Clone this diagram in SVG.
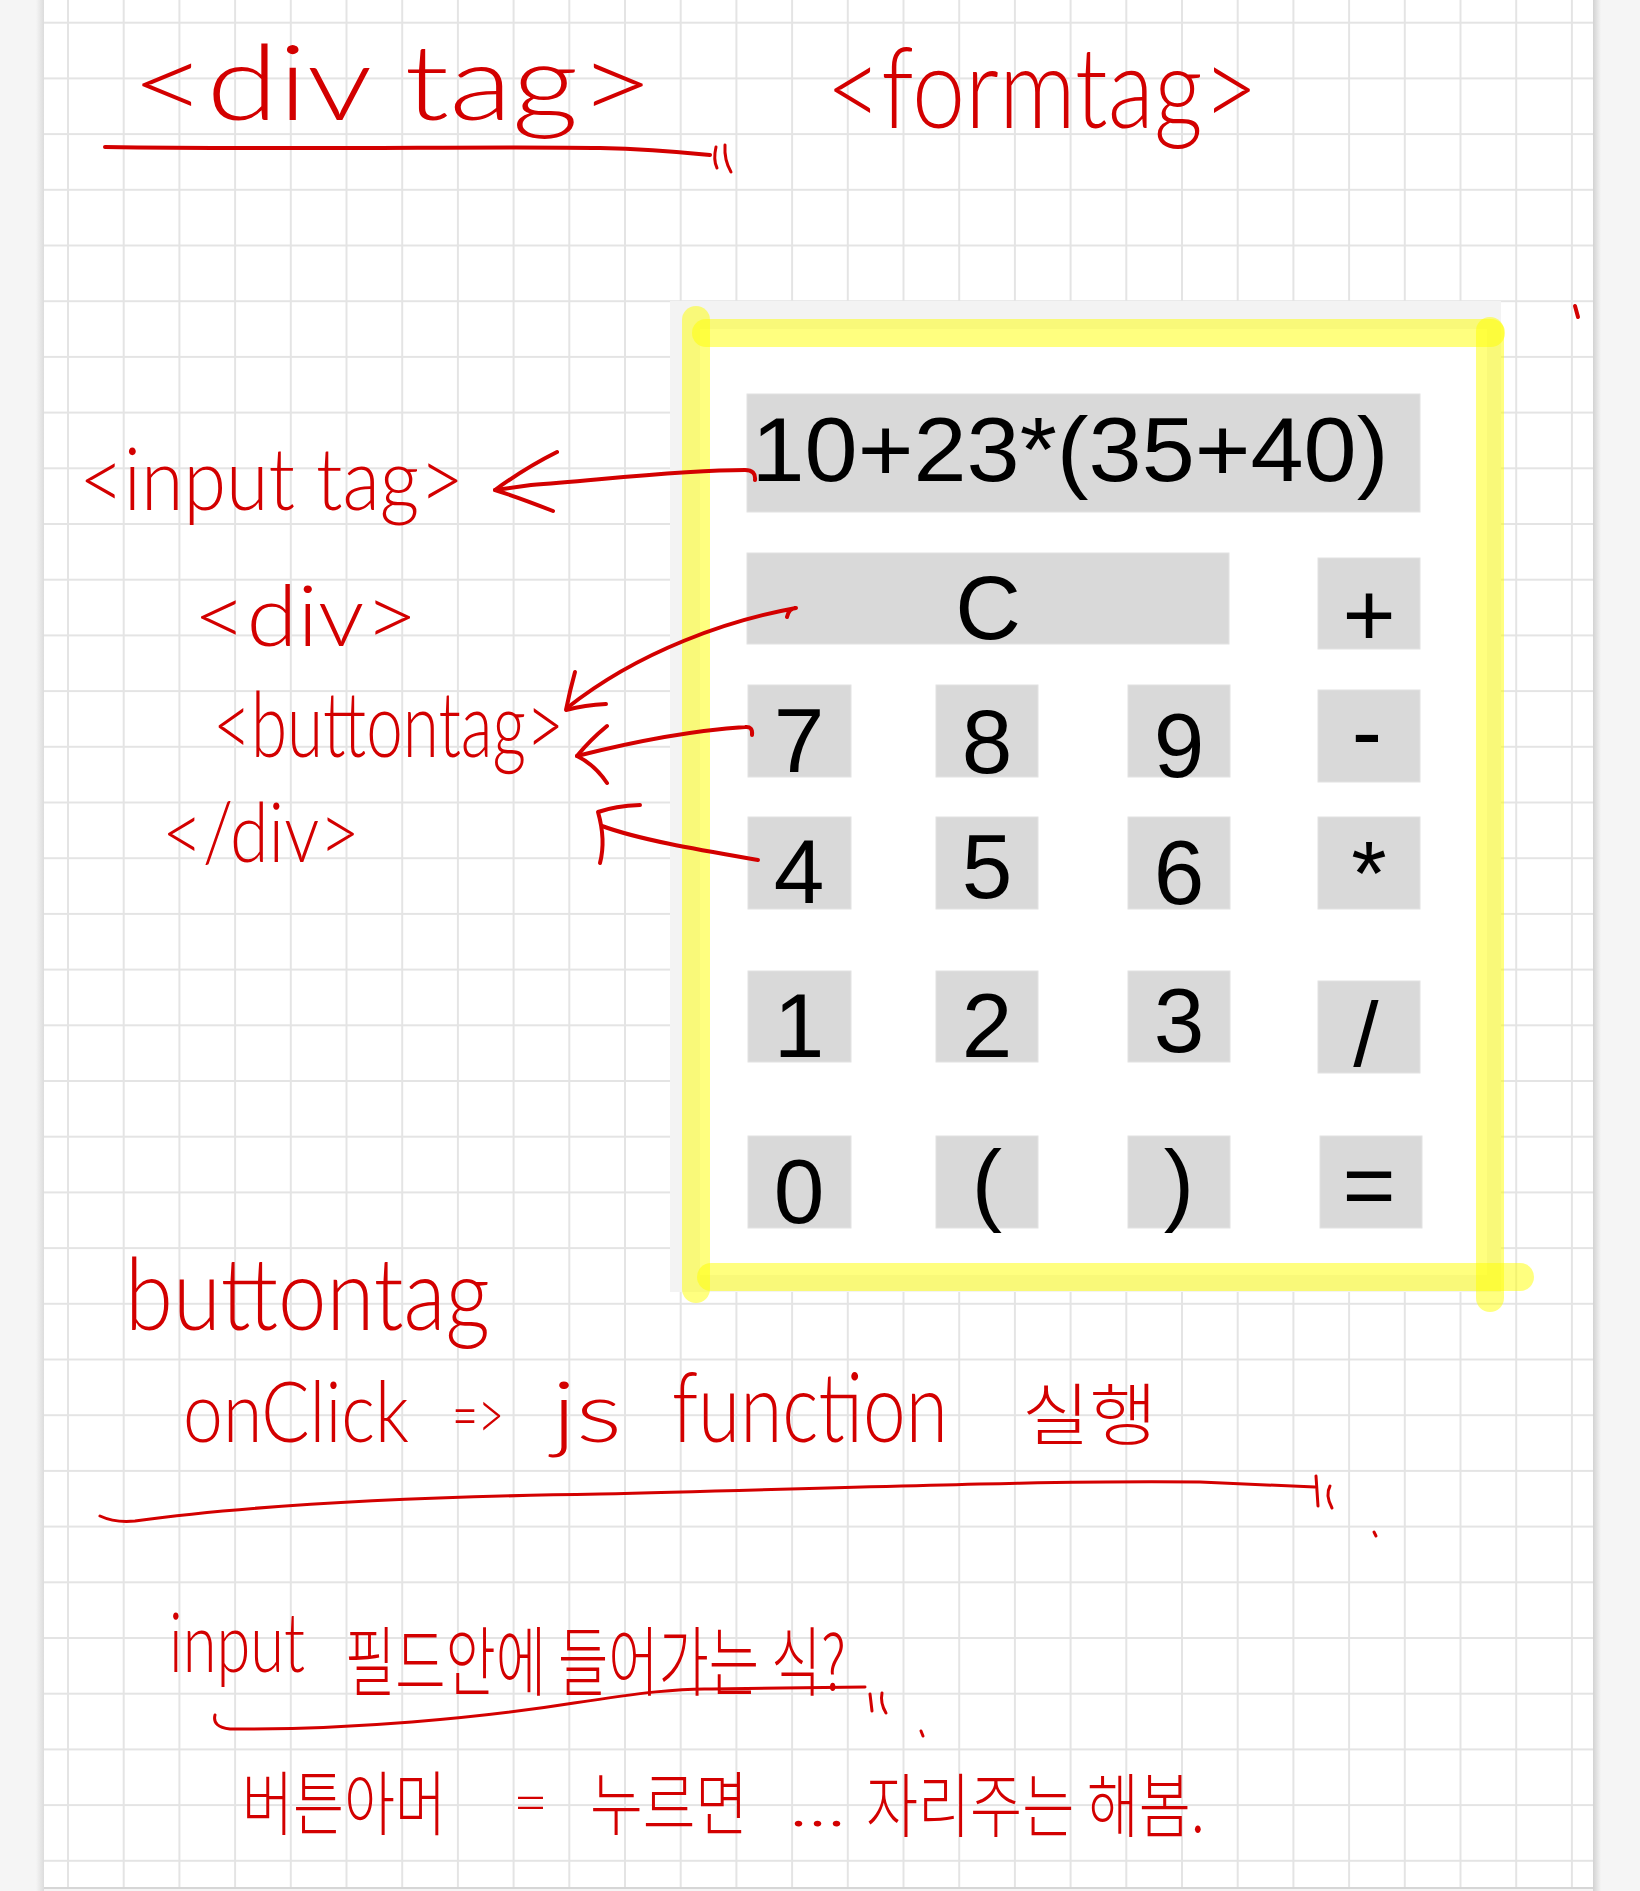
<svg xmlns="http://www.w3.org/2000/svg" width="1640" height="1891" viewBox="0 0 1640 1891">
<defs>
<pattern id="grid" patternUnits="userSpaceOnUse" x="40.15" y="-5.15" width="55.7" height="55.7">
<path d="M27.85,0V55.7M0,27.85H55.7" stroke="#e4e4e4" stroke-width="2" fill="none"/>
</pattern>
<linearGradient id="shadowL" x1="0" y1="0" x2="1" y2="0">
<stop offset="0" stop-color="#f5f5f5"/><stop offset="1" stop-color="#dcdcdc"/>
</linearGradient>
<linearGradient id="shadowR" x1="0" y1="0" x2="1" y2="0">
<stop offset="0" stop-color="#d2d2d2"/><stop offset="1" stop-color="#f5f5f5"/>
</linearGradient>
<style>
.btn{fill:#d9d9d9;stroke:#e2e2e2;stroke-width:1}
.calc{font-family:"Liberation Sans",Arial,sans-serif;font-size:91px;fill:#000;text-anchor:middle}
.hl{fill:none;stroke:#ffff00;stroke-opacity:0.5;stroke-width:28;stroke-linecap:round}
.hw{font-family:Lato,"DejaVu Sans","Noto Sans CJK KR",sans-serif;font-weight:300;fill:#d30000}
.ko{font-family:"Noto Sans CJK KR","DejaVu Sans",sans-serif;font-weight:300;fill:#d30000}
.pen{fill:none;stroke:#d30000;stroke-width:4;stroke-linecap:round;stroke-linejoin:round}
.pen3{fill:none;stroke:#d30000;stroke-width:3;stroke-linecap:round;stroke-linejoin:round}
</style>
</defs>

<!-- page -->
<rect x="0" y="0" width="1640" height="1891" fill="#f5f5f5"/>
<rect x="44" y="0" width="1549" height="1888" fill="#ffffff"/>
<rect x="44" y="0" width="1549" height="1888" fill="url(#grid)"/>
<rect x="36" y="0" width="8" height="1891" fill="url(#shadowL)"/>
<rect x="1593" y="0" width="8" height="1891" fill="url(#shadowR)"/>
<rect x="44" y="1887" width="1549" height="2" fill="#d6d6d6"/>

<!-- calculator screenshot -->
<g id="calculator">
<rect x="670" y="301" width="831" height="991" fill="#f3f3f3"/>
<rect x="700" y="329" width="787" height="946" fill="#ffffff"/>
<g id="display">
<rect class="btn" x="747" y="394" width="673" height="118"/>
<text class="calc" x="1070" y="481" textLength="637" lengthAdjust="spacingAndGlyphs">10+23*(35+40)</text>
</g>
<g id="btn-c"><rect class="btn" x="747" y="553" width="482" height="91"/><text class="calc" x="988" y="639">C</text></g>
<g id="btn-plus"><rect class="btn" x="1318" y="558" width="102" height="91"/><text class="calc" x="1369" y="646">+</text></g>
<g id="btn-7"><rect class="btn" x="748" y="685" width="103" height="92"/><text class="calc" x="799" y="772">7</text></g>
<g id="btn-8"><rect class="btn" x="936" y="685" width="102" height="92"/><text class="calc" x="987" y="773">8</text></g>
<g id="btn-9"><rect class="btn" x="1128" y="685" width="102" height="92"/><text class="calc" x="1179" y="777">9</text></g>
<g id="btn-minus"><rect class="btn" x="1318" y="690" width="102" height="92"/><text class="calc" x="1367" y="763">-</text></g>
<g id="btn-4"><rect class="btn" x="748" y="817" width="103" height="92"/><text class="calc" x="799" y="903">4</text></g>
<g id="btn-5"><rect class="btn" x="936" y="817" width="102" height="92"/><text class="calc" x="987" y="898">5</text></g>
<g id="btn-6"><rect class="btn" x="1128" y="817" width="102" height="92"/><text class="calc" x="1179" y="904">6</text></g>
<g id="btn-mul"><rect class="btn" x="1318" y="817" width="102" height="92"/><text class="calc" x="1369" y="905">*</text></g>
<g id="btn-1"><rect class="btn" x="748" y="971" width="103" height="91"/><text class="calc" x="799" y="1057">1</text></g>
<g id="btn-2"><rect class="btn" x="936" y="971" width="102" height="91"/><text class="calc" x="987" y="1057">2</text></g>
<g id="btn-3"><rect class="btn" x="1128" y="971" width="102" height="91"/><text class="calc" x="1179" y="1052">3</text></g>
<g id="btn-div"><rect class="btn" x="1318" y="981" width="102" height="92"/><text class="calc" x="1366" y="1066">/</text></g>
<g id="btn-0"><rect class="btn" x="748" y="1136" width="103" height="92"/><text class="calc" x="799" y="1223">0</text></g>
<g id="btn-lp"><rect class="btn" x="936" y="1136" width="102" height="92"/><text class="calc" x="987" y="1214">(</text></g>
<g id="btn-rp"><rect class="btn" x="1128" y="1136" width="102" height="92"/><text class="calc" x="1179" y="1214">)</text></g>
<g id="btn-eq"><rect class="btn" x="1320" y="1136" width="102" height="92"/><text class="calc" x="1369" y="1216">=</text></g>
</g>

<!-- yellow highlight frame -->
<g id="highlight">
<line class="hl" x1="696" y1="320" x2="696" y2="1289"/>
<line class="hl" x1="706" y1="333" x2="1491" y2="333"/>
<line class="hl" x1="1490" y1="331" x2="1490" y2="1298"/>
<line class="hl" x1="711" y1="1277" x2="1520" y2="1277"/>
</g>

<!-- handwritten notes -->
<g id="note-div-tag">
<text class="hw" x="131" y="120" font-size="104" textLength="523" lengthAdjust="spacingAndGlyphs">&lt;div tag&gt;</text>
<path class="pen" d="M105,147 C300,150 500,146 600,148 C650,149 680,152 710,155"/>
<path class="pen3" d="M716,147 Q713,160 717,168 M725,145 Q724,160 731,172"/>
</g>
<g id="note-form-tag">
<text class="hw" x="826" y="128" font-size="112" textLength="432" lengthAdjust="spacingAndGlyphs">&lt;formtag&gt;</text>
</g>
<g id="note-input-tag">
<text class="hw" x="79" y="510" font-size="86" textLength="385" lengthAdjust="spacingAndGlyphs">&lt;input tag&gt;</text>
</g>
<g id="note-div-open">
<text class="hw" x="193" y="646" font-size="84" textLength="225" lengthAdjust="spacingAndGlyphs">&lt;div&gt;</text>
</g>
<g id="note-button-tag">
<text class="hw" x="213" y="757" font-size="90" textLength="351" lengthAdjust="spacingAndGlyphs">&lt;buttontag&gt;</text>
</g>
<g id="note-div-close">
<text class="hw" x="162" y="862" font-size="82" textLength="198" lengthAdjust="spacingAndGlyphs">&lt;/div&gt;</text>
</g>
<g id="note-buttontag">
<text class="hw" x="125" y="1330" font-size="100" textLength="365" lengthAdjust="spacingAndGlyphs">buttontag</text>
</g>
<g id="note-onclick">
<text class="hw" x="183" y="1442" font-size="84" textLength="226" lengthAdjust="spacingAndGlyphs">onClick</text>
<text class="hw" x="452" y="1440" font-size="70" textLength="52" lengthAdjust="spacingAndGlyphs">=&gt;</text>
<text class="hw" x="552" y="1442" font-size="84" textLength="70" lengthAdjust="spacingAndGlyphs">js</text>
<text class="hw" x="672" y="1442" font-size="96" textLength="276" lengthAdjust="spacingAndGlyphs">function</text>
<text class="ko" x="1022" y="1440" font-size="68" textLength="135" lengthAdjust="spacingAndGlyphs">실행</text>
<path class="pen3" d="M100,1516 Q115,1523 135,1521 C250,1505 400,1497 600,1494 C850,1488 1050,1480 1200,1482 L1315,1487"/>
<path class="pen3" d="M1316,1476 L1318,1506 M1330,1486 Q1325,1495 1332,1508"/>
<path class="pen3" d="M1374,1532 L1376,1536"/>
</g>
<g id="note-input-field">
<text class="hw" x="169" y="1672" font-size="82" textLength="136" lengthAdjust="spacingAndGlyphs">input</text>
<text class="ko" x="345" y="1690" font-size="76" textLength="501" lengthAdjust="spacingAndGlyphs">필드안에 들어가는 식?</text>
<path class="pen3" d="M215,1715 Q212,1727 230,1729 C350,1730 480,1718 574,1703 C640,1693 680,1688 712,1689 L865,1687"/>
<path class="pen3" d="M870,1694 L872,1711 M882,1693 Q880,1703 886,1713"/>
<path class="pen3" d="M921,1731 L923,1736"/>
</g>
<g id="note-button-press">
<text class="ko" x="242" y="1830" font-size="70" textLength="204" lengthAdjust="spacingAndGlyphs">버튼아머</text>
<text class="hw" x="513" y="1824" font-size="64" textLength="35" lengthAdjust="spacingAndGlyphs">=</text>
<text class="ko" x="590" y="1830" font-size="70" textLength="158" lengthAdjust="spacingAndGlyphs">누르면</text>
<text class="hw" x="789" y="1826" font-size="64" textLength="57" lengthAdjust="spacingAndGlyphs">...</text>
<text class="ko" x="866" y="1832" font-size="70" textLength="339" lengthAdjust="spacingAndGlyphs">자리주는 해봄.</text>
</g>
<path class="pen" d="M1575,306 L1578,317"/>

<!-- connectors -->
<g id="connectors">
<g id="arrow-display-input">
<path class="pen" d="M755,480 Q756,470 745,470 C680,470 600,480 531,485 L495,490"/>
<path class="pen" d="M557,452 Q525,468 495,490 Q520,498 553,511"/>
</g>
<g id="arrow-c-button">
<path class="pen" d="M787,617 Q789,608 796,608 C730,620 640,650 567,708"/>
<path class="pen" d="M575,672 Q570,690 566,710 Q585,705 606,704"/>
</g>
<g id="arrow-7-button">
<path class="pen" d="M752,735 Q753,726 745,727 C700,730 640,740 577,756"/>
<path class="pen" d="M607,726 Q590,740 577,756 Q595,765 607,783"/>
</g>
<g id="arrow-4-button">
<path class="pen" d="M758,860 C700,850 640,840 602,826"/>
<path class="pen" d="M600,863 Q606,840 598,812 Q615,806 640,805"/>
</g>
</g>
</svg>
